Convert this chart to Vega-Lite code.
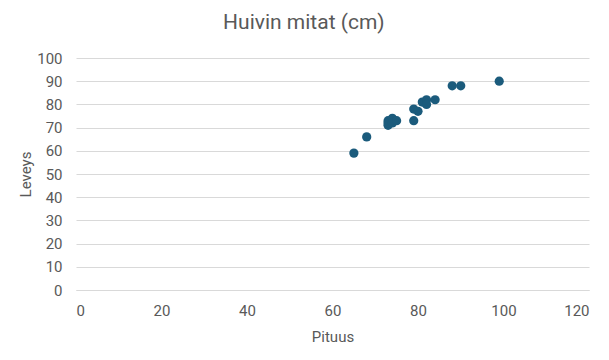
{
  "$schema": "https://vega.github.io/schema/vega-lite/v6.json",
  "width": 609,
  "height": 360,
  "autosize": {"type": "fit", "contains": "padding"},
  "padding": {"left": 18, "right": 20, "top": 12, "bottom": 16},
  "background": "white",
  "title": {"text": "Huivin mitat (cm)", "font": "Roboto", "fontSize": 21, "fontWeight": "normal", "color": "#595959", "offset": 18, "frame": "bounds", "anchor": "middle"},
  "config": {"view": {"stroke": null}, "font": "Roboto"},
  "data": {"values": [
    {"Pituus": 65, "Leveys": 59},
    {"Pituus": 68, "Leveys": 66},
    {"Pituus": 73, "Leveys": 71},
    {"Pituus": 73, "Leveys": 73},
    {"Pituus": 73, "Leveys": 72},
    {"Pituus": 74, "Leveys": 74},
    {"Pituus": 74, "Leveys": 72},
    {"Pituus": 75, "Leveys": 73},
    {"Pituus": 79, "Leveys": 78},
    {"Pituus": 80, "Leveys": 77},
    {"Pituus": 79, "Leveys": 73},
    {"Pituus": 81, "Leveys": 81},
    {"Pituus": 82, "Leveys": 82},
    {"Pituus": 82, "Leveys": 80},
    {"Pituus": 84, "Leveys": 82},
    {"Pituus": 88, "Leveys": 88},
    {"Pituus": 90, "Leveys": 88},
    {"Pituus": 99, "Leveys": 90}
  ]},
  "mark": {"type": "circle", "size": 85, "color": "#1b5b7c", "opacity": 1},
  "encoding": {
    "x": {"field": "Pituus", "type": "quantitative", "scale": {"domain": [0, 120], "nice": false},
      "axis": {"values": [0, 20, 40, 60, 80, 100, 120], "grid": false, "ticks": false, "domain": true, "domainColor": "#d9d9d9",
        "labelColor": "#595959", "labelFontSize": 15, "labelPadding": 13, "title": "Pituus", "titleColor": "#595959", "titleFontSize": 15, "titleFontWeight": "normal", "titlePadding": 11}},
    "y": {"field": "Leveys", "type": "quantitative", "scale": {"domain": [0, 100], "nice": false},
      "axis": {"values": [0, 10, 20, 30, 40, 50, 60, 70, 80, 90, 100], "grid": true, "gridColor": "#d9d9d9", "ticks": false, "domain": false,
        "labelColor": "#595959", "labelFontSize": 15, "labelPadding": 14, "title": "Leveys", "titleColor": "#595959", "titleFontSize": 15, "titleFontWeight": "normal", "titlePadding": 3}}
  }
}
